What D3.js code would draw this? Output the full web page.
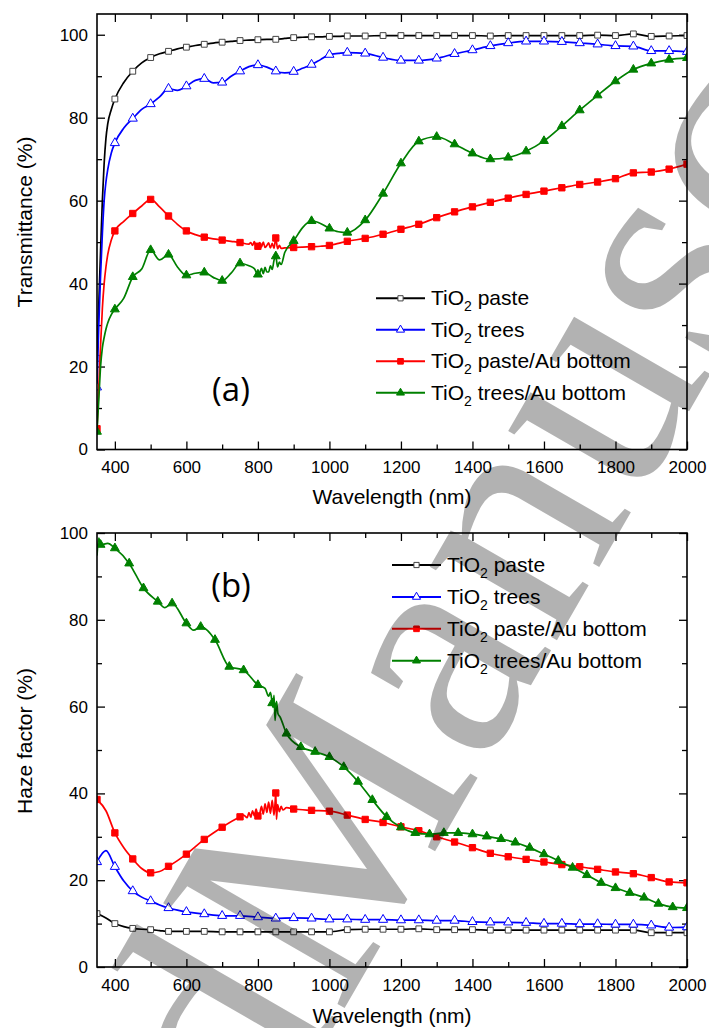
<!DOCTYPE html>
<html>
<head>
<meta charset="utf-8">
<script src="https://cdn.jsdelivr.net/npm/d3@7"></script>
<style>
  body { margin: 0; background: #fff; }
  svg { display: block; font-family: "Liberation Sans", Arial, sans-serif; }
</style>
</head>
<body>
<div id="chart"></div>
<script>
// ---- data ----
const seriesNames = ["paste", "trees", "paste/Au bottom", "trees/Au bottom"];

// (a) transmittance
const tWl = [350,355,360,365,370,375,380,390,400,425,450,475,500,525,550,575,600,625,650,675,700,725,750,775,800,825,850,875,900,925,950,975,1000,1025,1050,1100,1150,1200,1250,1300,1350,1400,1450,1500,1550,1600,1650,1700,1750,1800,1850,1900,1950,2000];
const tPaste = [22,35,48,60,69,75,78.5,82,84.5,88.5,91.2,93.2,94.5,95.4,96.0,96.6,97.0,97.4,97.7,98.0,98.2,98.4,98.6,98.7,98.8,98.9,98.9,99.1,99.3,99.4,99.5,99.5,99.6,99.6,99.7,99.7,99.8,99.8,99.8,99.8,99.8,99.8,99.7,99.8,99.8,99.8,99.8,99.8,99.9,99.8,100.2,99.6,99.7,99.8];
const tTrees = [15,30,42,52,60,64.5,67.5,71.5,73.9,77.5,79.8,82.0,83.3,85.0,87.0,86.6,87.6,89.0,89.4,88.4,88.5,90.0,91.2,92.3,92.7,92.2,91.2,90.8,91.1,91.9,92.8,94.0,95.2,95.5,95.7,95.5,94.5,93.8,93.8,94.3,95.4,96.3,97.3,98.0,98.4,98.4,98.3,98.0,97.7,97.3,97.2,96.1,96.1,95.9];
const tPasteAu = [5,15,25,34,40,44,47,50.5,52.7,55.0,56.9,58.7,60.3,58.5,56.3,54.3,52.7,51.8,51.2,50.8,50.5,50.2,49.9,49.5,49.0,49.2,51.0,48.6,48.7,48.8,48.9,49.0,49.2,49.7,50.2,50.9,51.9,53.1,54.3,55.9,57.3,58.5,59.6,60.6,61.5,62.3,63.1,63.9,64.5,65.3,66.7,66.9,67.6,68.8];
const tTreesAu = [4.3,12,20,24.5,27,29,30.5,32.5,33.8,36.5,41.6,43.5,48.1,45.7,47.0,44.0,42.0,42.5,42.7,41.5,40.7,42.5,44.9,44.3,42.2,42.8,46.6,47.5,50.3,53.5,55.1,54.5,53.3,52.5,52.3,55.3,61.7,69.0,74.3,75.4,73.6,71.4,70.0,70.4,71.9,74.4,78.0,81.8,85.4,88.8,91.6,93.1,94.0,94.4];
// noisy stretches around 800-860 nm
const tPasteAuNoise = [[780,49.9],[785,49.2],[790,50.1],[795,49.0],[805,49.9],[810,48.8],[815,50.0],[820,48.7],[830,49.8],[835,48.6],[840,49.7],[845,48.5],[855,48.4],[860,49.2],[865,48.5]];
const tTreesAuNoise = [[790,43.6],[805,42.6],[810,43.7],[815,42.4],[820,43.9],[830,42.8],[835,44.3],[840,43.4],[845,45.6],[855,44.0],[860,45.2],[865,44.6]];

// (b) haze factor
const hWl = [350,375,400,425,450,475,500,525,550,575,600,650,700,750,800,850,900,950,1000,1050,1100,1150,1200,1250,1300,1350,1400,1450,1500,1550,1600,1650,1700,1750,1800,1850,1900,1950,2000];
const hPaste = [12.3,11.3,10.0,9.3,8.9,8.7,8.6,8.4,8.2,8.2,8.2,8.2,8.1,8.1,8.1,8.1,8.1,8.1,8.1,8.6,8.7,8.7,8.7,8.8,8.6,8.6,8.6,8.5,8.5,8.5,8.5,8.5,8.5,8.5,8.5,8.5,7.9,7.9,7.9];
const hTrees = [24.2,26.8,23.1,19.8,17.5,16.1,15.2,14.3,13.6,13.1,12.7,12.2,11.8,11.8,11.5,11.2,11.3,11.2,11.0,11.0,10.9,10.9,10.8,10.8,10.7,10.7,10.4,10.3,10.3,10.2,10.0,10.0,9.9,9.9,9.8,9.8,9.6,9.1,9.2];
const hPasteAu = [38.6,36.0,30.9,27.5,24.9,22.7,21.7,22.0,23.2,24.5,26.0,29.4,32.2,34.6,34.8,40.1,36.4,36.1,35.9,35.0,34.0,33.3,32.3,31.4,30.0,28.8,27.5,26.2,25.4,24.8,24.2,23.6,23.1,22.5,21.9,21.5,20.6,19.6,19.4];
const hPasteAuNoise = [[760,35.0],[770,34.4],[775,35.6],[780,34.5],[785,36.0],[790,34.8],[795,36.4],[805,35.3],[810,37.0],[815,35.2],[820,37.6],[825,35.6],[830,38.0],[835,35.4],[840,38.4],[845,35.0],[848,37.8],[852,34.0],[855,37.4],[860,35.8],[865,37.0],[870,36.2],[880,36.7]];
const hgWl = [350,355,360,380,400,440,480,520,540,560,600,620,640,680,720,760,800,840,880,920,960,1000,1040,1080,1120,1160,1200,1240,1280,1320,1360,1400,1440,1480,1520,1560,1600,1640,1680,1720,1760,1800,1840,1880,1920,1960,2000];
const hTreesAu = [94.8,98.8,97.3,97.6,96.5,93.0,87.3,84.2,82.8,83.8,79.2,77.6,78.4,75.4,69.2,68.4,65.0,60.8,53.8,50.7,49.6,48.4,46.1,42.7,38.5,34.6,32.2,30.9,30.6,30.9,30.9,30.6,30.1,29.5,28.7,27.5,26.0,24.5,22.9,21.2,19.4,18.2,17.1,16.0,14.6,13.8,13.6];
const hTreesAuNoise = [[820,64.2],[830,62.4],[835,63.3],[842,59.8],[845,62.6],[848,56.8],[852,61.2],[856,58.4],[862,57.6]];

const xTicks = [400,600,800,1000,1200,1400,1600,1800,2000];
const xMinor = [500,700,900,1100,1300,1500,1700,1900];
const yTicks = [0,20,40,60,80,100];
const yMinor = [10,30,50,70,90];

// ---- styles ----
const styles = [
    {color: "#000000", shape: d3.symbolSquare, size: 34, fill: "#ffffff", mstroke: "#444"},
    {color: "#0000ff", shape: d3.symbolTriangle, size: 36, fill: "#ffffff", mstroke: "#0000ff"},
    {color: "#ff0000", shape: d3.symbolSquare, size: 40, fill: "#ff0000", mstroke: "#ff0000"},
    {color: "#008000", shape: d3.symbolTriangle, size: 34, fill: "#008000", mstroke: "#008000"}
];

const W = 709, H = 1028;
const svg = d3.select("#chart").append("svg").attr("width", W).attr("height", H);

function makeSeries(wl, vals, noise, markerTest) {
    let pts = wl.map(function(w, i) { return {x: w, y: vals[i], m: markerTest(w)}; });
    (noise || []).forEach(function(p) { pts.push({x: p[0], y: p[1], m: false}); });
    pts.sort(function(a, b) { return a.x - b.x; });
    return pts;
}

function drawPanel(cfg) {
    const x = d3.scaleLinear().domain([350, 2000]).range([97, 687]);
    const y = d3.scaleLinear().domain(cfg.yDomain).range([cfg.bottom, cfg.top]);
    const g = svg.append("g");

    g.append("clipPath").attr("id", cfg.id + "clip")
        .append("rect").attr("x", 97).attr("y", cfg.top).attr("width", 590).attr("height", cfg.bottom - cfg.top);

    // axes (ticks inside)
    function tickAxis(axis, vals, len, tf, labels, pad) {
        let a = axis.tickValues(vals).tickSize(-len).tickPadding(pad || 3);
        a.tickFormat(labels ? d3.format("d") : "");
        let ag = g.append("g").attr("transform", tf).call(a);
        ag.select(".domain").remove();
        ag.selectAll("line").attr("stroke", "#000").attr("stroke-width", 1.3);
        ag.selectAll("text").attr("fill", "#000").style("font-size", "17px")
            .style("font-family", "'Liberation Sans', Arial, sans-serif");
        return ag;
    }
    tickAxis(d3.axisBottom(x), xTicks, 8, "translate(0," + cfg.bottom + ")", true, 11.5);
    tickAxis(d3.axisBottom(x), xMinor, 5, "translate(0," + cfg.bottom + ")", false);
    tickAxis(d3.axisTop(x), xTicks, 8, "translate(0," + cfg.top + ")", false);
    tickAxis(d3.axisTop(x), xMinor, 5, "translate(0," + cfg.top + ")", false);
    tickAxis(d3.axisLeft(y), yTicks, 8, "translate(97,0)", true, 9);
    tickAxis(d3.axisLeft(y), yMinor, 5, "translate(97,0)", false);
    tickAxis(d3.axisRight(y), yTicks, 8, "translate(687,0)", false);
    tickAxis(d3.axisRight(y), yMinor, 5, "translate(687,0)", false);

    // lines + markers
    const line = d3.line().x(function(d) { return x(d.x); }).y(function(d) { return y(d.y); })
        .curve(d3.curveMonotoneX);
    const plot = g.append("g").attr("clip-path", "url(#" + cfg.id + "clip)");
    cfg.series.forEach(function(s, i) {
        const st = styles[i];
        plot.append("path").datum(s).attr("d", line)
            .attr("fill", "none").attr("stroke", st.color).attr("stroke-width", 1.7);
        plot.selectAll(".m" + i).data(s.filter(function(d) { return d.m; })).enter()
            .append("path")
            .attr("d", d3.symbol().type(st.shape).size(st.size))
            .attr("transform", function(d) { return "translate(" + x(d.x) + "," + y(d.y) + ")"; })
            .attr("fill", st.fill).attr("stroke", st.mstroke).attr("stroke-width", 1);
    });

    // frame
    g.append("rect").attr("x", 97).attr("y", cfg.top).attr("width", 590).attr("height", cfg.bottom - cfg.top)
        .attr("fill", "none").attr("stroke", "#000").attr("stroke-width", 1.6);

    // titles
    g.append("text").attr("x", 392).attr("y", cfg.xTitleY).attr("text-anchor", "middle")
        .style("font-size", "21px").text("Wavelength (nm)");
    g.append("text").attr("transform", "translate(32," + cfg.yTitleMid + ") rotate(-90)")
        .attr("text-anchor", "middle").style("font-size", "21px").text(cfg.yTitle);
    g.append("text").attr("x", 231).attr("y", cfg.tagY).attr("text-anchor", "middle")
        .style("font-family", "'Open Sans', sans-serif").style("font-size", "33px").text(cfg.tag);

    // legend
    const leg = g.append("g");
    seriesNames.forEach(function(name, i) {
        const st = styles[i];
        const ly = cfg.legY + i * cfg.legStep;
        leg.append("line").attr("x1", cfg.legX).attr("x2", cfg.legX + 49).attr("y1", ly).attr("y2", ly)
            .attr("stroke", st.color).attr("stroke-width", 2);
        leg.append("path").attr("d", d3.symbol().type(st.shape).size(st.size * 0.8))
            .attr("transform", "translate(" + (cfg.legX + 24.5) + "," + ly + ")")
            .attr("fill", st.fill).attr("stroke", st.mstroke).attr("stroke-width", 1);
        const t = leg.append("text").attr("x", cfg.legX + 55).attr("y", ly + 7).style("font-size", "21px");
        t.append("tspan").text("TiO");
        t.append("tspan").attr("dy", 6).style("font-size", "14px").text("2");
        t.append("tspan").attr("dy", -6).text(" " + name);
    });
}

const m50 = function(w) { return w % 50 === 0; };
const m40 = function(w) { return w >= 360 && (w - 360) % 40 === 0; };

drawPanel({
    id: "a", top: 14, bottom: 449.5, yDomain: [0, 105],
    xTitleY: 504, yTitle: "Transmittance (%)", yTitleMid: 222, tag: "(a)", tagY: 401,
    legX: 376, legY: 298.3, legStep: 31.5,
    series: [
        makeSeries(tWl, tPaste, null, m50),
        makeSeries(tWl, tTrees, null, m50),
        makeSeries(tWl, tPasteAu, tPasteAuNoise, m50),
        makeSeries(tWl, tTreesAu, tTreesAuNoise, m50)
    ]
});

drawPanel({
    id: "b", top: 533, bottom: 967, yDomain: [0, 100],
    xTitleY: 1023, yTitle: "Haze factor (%)", yTitleMid: 741, tag: "(b)", tagY: 597,
    legX: 392, legY: 565, legStep: 31.9,
    series: [
        makeSeries(hWl, hPaste, null, m50),
        makeSeries(hWl, hTrees, null, m50),
        makeSeries(hWl, hPasteAu, hPasteAuNoise, m50),
        makeSeries(hgWl, hTreesAu, hTreesAuNoise, m40)
    ]
});

// watermark on top, semi-transparent
const wm = svg.append("g").attr("transform", "translate(340,1016) rotate(-60)")
    .style("font-family", "'Liberation Serif', 'Times New Roman', serif").style("font-size", "320px")
    .attr("fill", "#000").attr("fill-opacity", 0.3);
wm.append("text").attr("text-anchor", "end").text("Accepted ");
wm.append("text").attr("text-anchor", "start").text("Manuscript");
</script>
</body>
</html>
